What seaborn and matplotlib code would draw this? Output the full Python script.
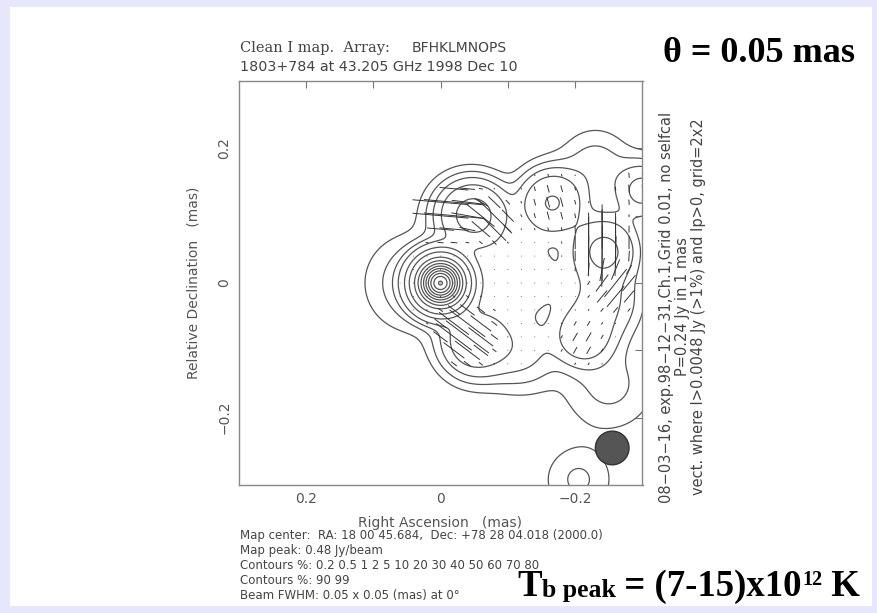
import numpy as np
import matplotlib
matplotlib.use("Agg")
import matplotlib.pyplot as plt
import seaborn as sns
from matplotlib.patches import Circle, Rectangle

# ---- Clean I model components (RA offset, Dec offset in mas; peak in Jy/beam; FWHM in mas)
comp_ra = [0.000, -0.052, -0.166, -0.243, -0.212, -0.300, -0.205, -0.052,
           0.040, -0.230, -0.120, -0.240, -0.250, -0.120, -0.030]
comp_dec = [0.000, 0.100, 0.119, 0.048, -0.079, 0.137, -0.292, -0.087,
            0.000, 0.175, 0.010, -0.027, -0.150, -0.100, 0.105]
comp_peak = [0.470, 0.030, 0.025, 0.030, 0.018, 0.012, 0.0027, 0.020,
             0.004, 0.0035, 0.008, 0.012, 0.003, 0.006, 0.006]
comp_fwhm = [0.050, 0.065, 0.065, 0.065, 0.060, 0.060, 0.073, 0.070,
             0.100, 0.075, 0.100, 0.080, 0.100, 0.080, 0.070]

# ---- polarized components (position, polarized flux in Jy, FWHM, EVPA in deg)
pol_ra = [-0.012, -0.075, -0.035, -0.166, -0.240, -0.260, -0.212, -0.285]
pol_dec = [0.110, 0.095, -0.075, 0.119, 0.055, -0.005, -0.085, 0.140]
pol_flux = [0.025, 0.018, 0.020, 0.004, 0.028, 0.013, 0.004, 0.003]
pol_fwhm = [0.055, 0.040, 0.055, 0.060, 0.050, 0.045, 0.050, 0.050]
pol_evpa = [85, 45, 53, 15, 0, -40, -30, 5]

contour_pct = [0.2, 0.5, 1, 2, 5, 10, 20, 30, 40, 50, 60, 70, 80, 90, 99]
beam_fwhm = 0.05
beam_ra, beam_dec = -0.255, -0.245
p_scale = 0.24          # Jy per 1 mas of vector length
i_cut = 0.0048          # Jy, vectors only above this
vec_step = 0.02         # grid 0.01 x 2

sns.set_theme(style="white")
plt.rcParams["font.family"] = ["DejaVu Sans"]


def gauss_sum(x, y, ras, decs, amps, fwhms):
    out = np.zeros_like(x, dtype=float)
    for r0, d0, a, f in zip(ras, decs, amps, fwhms):
        out += a * np.exp(-4 * np.log(2) * ((x - r0) ** 2 + (y - d0) ** 2) / f ** 2)
    return out


def stokes_qu(x, y):
    q = np.zeros_like(x, dtype=float)
    u = np.zeros_like(x, dtype=float)
    for r0, d0, a, f, chi in zip(pol_ra, pol_dec, pol_flux, pol_fwhm, pol_evpa):
        g = a * np.exp(-4 * np.log(2) * ((x - r0) ** 2 + (y - d0) ** 2) / f ** 2)
        q += g * np.cos(np.radians(2 * chi))
        u += g * np.sin(np.radians(2 * chi))
    return q, u


W, H = 877, 613
fig = plt.figure(figsize=(W / 100, H / 100), dpi=100)
fig.patch.set_facecolor("#e6e6fc")
fig.add_artist(Rectangle((10 / W, 1 - 606 / H), 862 / W, 599 / H,
                         transform=fig.transFigure, facecolor="white",
                         edgecolor="none", zorder=-5))

ax = fig.add_axes([238 / W, 1 - 485 / H, 405 / W, 404 / H])
ax.set_facecolor("white")

# total intensity map
ra = np.arange(-0.36, 0.3601, 0.002)
dec = np.arange(-0.36, 0.3601, 0.002)
RA, DEC = np.meshgrid(ra, dec)
img = gauss_sum(RA, DEC, comp_ra, comp_dec, comp_peak, comp_fwhm)
peak = img.max()
levels = [peak * p / 100 for p in contour_pct]
ax.contour(RA, DEC, img, levels=levels, colors="#555555", linewidths=0.9)

# polarization vectors
g = np.arange(-0.30, 0.3001, vec_step)
VX, VY = np.meshgrid(g, g)
vi = gauss_sum(VX, VY, comp_ra, comp_dec, comp_peak, comp_fwhm)
q, u = stokes_qu(VX, VY)
p = np.hypot(q, u)
chi = 0.5 * np.arctan2(u, q)
m = (vi > i_cut) & (p > 0)
ax.quiver(VX[m], VY[m], (p * np.sin(chi))[m], (p * np.cos(chi))[m],
          angles="xy", scale_units="xy", scale=p_scale, pivot="middle",
          headwidth=0, headlength=0, headaxislength=0, width=0.0024,
          color="#333333", zorder=3)

# restoring beam
ax.add_patch(Circle((beam_ra, beam_dec), beam_fwhm / 2, facecolor="#555555",
                    edgecolor="#333333", lw=1, zorder=4))

ax.set_xlim(0.3, -0.3)
ax.set_ylim(-0.3, 0.3)
ax.set_aspect("equal")
ax.set_xticks([0.2, 0.1, 0.0, -0.1, -0.2])
ax.set_xticklabels(["0.2", "", "0", "", "\u22120.2"])
ax.set_yticks([0.2, 0.1, 0.0, -0.1, -0.2])
ax.set_yticklabels(["0.2", "", "0", "", "\u22120.2"], rotation=90, va="center")
ax.tick_params(direction="in", length=5, width=0.8, color="#777777",
               top=True, right=True, labelsize=10, labelcolor="#555555", pad=5)
for s in ax.spines.values():
    s.set_color("#888888")
    s.set_linewidth(1.0)
ax.set_xlabel("Right Ascension   (mas)", fontsize=10, color="#555555")
ax.set_ylabel("Relative Declination   (mas)", fontsize=10, color="#555555")
ax.xaxis.set_label_coords(0.5, -0.077)
ax.yaxis.set_label_coords(-0.094, 0.5)

gray = "#444444"
fig.text(240 / W, 1 - 48 / H, "Clean I map.  Array:", family="DejaVu Serif",
         fontsize=10.5, color=gray, va="center")
fig.text(412 / W, 1 - 48 / H, "BFHKLMNOPS", fontsize=10, color=gray, va="center")
fig.text(240 / W, 1 - 67 / H, "1803+784 at 43.205 GHz 1998 Dec 10", fontsize=10.3,
         color=gray, va="center")

foot = ["Map center:  RA: 18 00 45.684,  Dec: +78 28 04.018 (2000.0)",
        "Map peak: 0.48 Jy/beam",
        "Contours %: 0.2 0.5 1 2 5 10 20 30 40 50 60 70 80",
        "Contours %: 90 99",
        "Beam FWHM: 0.05 x 0.05 (mas) at 0\u00b0"]
for i, t in enumerate(foot):
    fig.text(240 / W, 1 - (535 + 15.2 * i) / H, t, fontsize=8.5, color=gray, va="center")

side = ["08\u221203\u221216, exp.98\u221212\u221231,Ch.1,Grid 0.01, no selfcal",
        "P=0.24 Jy in 1 mas",
        "vect. where I>0.0048 Jy (>1%) and Ip>0, grid=2x2"]
for xpx, t in zip([667, 683, 699], side):
    fig.text(xpx / W, 1 - 307 / H, t, rotation=90, fontsize=10.5, color=gray,
             ha="center", va="center")

serif = dict(family="Liberation Serif", weight="bold", color="black")
fig.text(663 / W, 1 - 53 / H, "\u03b8 = 0.05 mas", fontsize=26, va="center", **serif)

# brightness temperature line, set piece by piece along one baseline
renderer = fig.canvas.get_renderer()
pieces = [("T", 26.5, 0), ("b peak", 18.5, -1), (" = (7-15)x10", 26.5, 0),
          ("12", 14.5, 11), (" K", 26.5, 0)]
xpx, base = 517.0, 596.0
for txt, size, rise in pieces:
    t = fig.text(xpx / W, 1 - (base - rise) / H, txt, fontsize=size,
                 va="baseline", ha="left", **serif)
    xpx += t.get_window_extent(renderer).width

fig.savefig("out.png", dpi=100)
